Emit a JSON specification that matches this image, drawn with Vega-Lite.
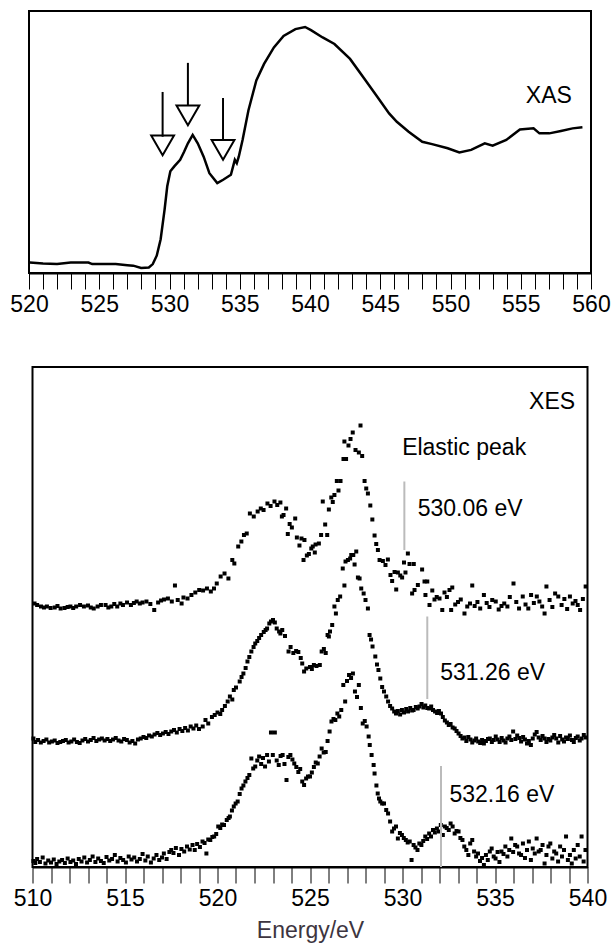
{
 "$schema": "https://vega.github.io/schema/vega-lite/v6.json",
 "padding": {"left": 8, "top": 10, "right": 0, "bottom": 0},
 "background": "white",
 "config": {"view": {"stroke": "black", "strokeWidth": 2}, "font": "Liberation Sans"},
 "spacing": 94,
 "bounds": "flush",
 "center": true,
 "datasets": {
  "xas": [
   {"e":520.06,"i":0.040},{"e":521.0,"i":0.036},{"e":522.0,"i":0.034},{"e":522.97,"i":0.040},{"e":524.23,"i":0.040},{"e":524.5,"i":0.034},{"e":526.17,"i":0.034},{"e":527.0,"i":0.030},{"e":527.42,"i":0.028},{"e":527.98,"i":0.019},{"e":528.53,"i":0.021},{"e":528.81,"i":0.034},{"e":529.09,"i":0.066},{"e":529.37,"i":0.129},{"e":529.65,"i":0.242},{"e":529.84,"i":0.331},{"e":530.06,"i":0.388},{"e":530.34,"i":0.407},{"e":530.76,"i":0.432},{"e":531.04,"i":0.463},{"e":531.31,"i":0.495},{"e":531.65,"i":0.527},{"e":532.01,"i":0.495},{"e":532.43,"i":0.444},{"e":532.84,"i":0.381},{"e":533.4,"i":0.343},{"e":533.82,"i":0.356},{"e":534.37,"i":0.375},{"e":534.65,"i":0.432},{"e":534.79,"i":0.419},{"e":534.93,"i":0.444},{"e":535.2,"i":0.508},{"e":535.62,"i":0.621},{"e":536.18,"i":0.735},{"e":536.73,"i":0.798},{"e":537.43,"i":0.861},{"e":538.12,"i":0.905},{"e":538.96,"i":0.931},{"e":539.65,"i":0.939},{"e":540.07,"i":0.927},{"e":540.9,"i":0.899},{"e":541.74,"i":0.874},{"e":542.85,"i":0.817},{"e":543.96,"i":0.735},{"e":544.8,"i":0.672},{"e":545.63,"i":0.609},{"e":546.18,"i":0.577},{"e":547.02,"i":0.539},{"e":547.99,"i":0.501},{"e":548.69,"i":0.492},{"e":549.8,"i":0.476},{"e":550.63,"i":0.460},{"e":551.47,"i":0.470},{"e":552.44,"i":0.495},{"e":553.0,"i":0.486},{"e":553.97,"i":0.508},{"e":554.94,"i":0.548},{"e":555.91,"i":0.552},{"e":556.33,"i":0.533},{"e":557.03,"i":0.533},{"e":557.86,"i":0.542},{"e":558.69,"i":0.552},{"e":559.39,"i":0.556}
  ],
  "arrows": [
   {"e":529.51,"top":0.691,"tri":0.52,"c":0.4875},
   {"e":531.31,"top":0.802,"tri":0.640,"c":0.602},
   {"e":533.81,"top":0.668,"tri":0.508,"c":0.470}
  ],
  "toplabels": [{"e":555.36,"i":0.650,"t":"XAS"}],
  "markers": [
   {"e":530.1,"y1":0.771,"y2":0.634},
   {"e":531.34,"y1":0.501,"y2":0.336},
   {"e":532.08,"y1":0.202,"y2":0.0}
  ],
  "labels": [
   {"e":536.84,"i":0.917,"t":"XES"},
   {"e":529.98,"i":0.824,"t":"Elastic peak"},
   {"e":530.82,"i":0.702,"t":"530.06 eV"},
   {"e":532.04,"i":0.375,"t":"531.26 eV"},
   {"e":532.54,"i":0.131,"t":"532.16 eV"}
  ],
  "xes": [
   {"e":510.11,"i":0.527},{"e":510.25,"i":0.524},{"e":510.46,"i":0.521},{"e":510.62,"i":0.519},{"e":510.78,"i":0.521},{"e":510.98,"i":0.518},{"e":511.2,"i":0.519},{"e":511.35,"i":0.522},{"e":511.52,"i":0.517},{"e":511.73,"i":0.518},{"e":511.9,"i":0.520},{"e":512.05,"i":0.521},{"e":512.2,"i":0.518},{"e":512.36,"i":0.521},{"e":512.57,"i":0.524},{"e":512.78,"i":0.521},{"e":513.0,"i":0.523},{"e":513.15,"i":0.519},{"e":513.31,"i":0.517},{"e":513.52,"i":0.521},{"e":513.7,"i":0.524},{"e":513.95,"i":0.524},{"e":514.1,"i":0.519},{"e":514.26,"i":0.521},{"e":514.42,"i":0.526},{"e":514.58,"i":0.521},{"e":514.75,"i":0.527},{"e":514.89,"i":0.524},{"e":515.11,"i":0.529},{"e":515.32,"i":0.524},{"e":515.48,"i":0.528},{"e":515.63,"i":0.531},{"e":515.8,"i":0.527},{"e":515.95,"i":0.529},{"e":516.16,"i":0.531},{"e":516.37,"i":0.526},{"e":516.58,"i":0.514},{"e":516.79,"i":0.529},{"e":516.95,"i":0.533},{"e":517.11,"i":0.535},{"e":517.32,"i":0.537},{"e":517.53,"i":0.531},{"e":517.7,"i":0.563},{"e":517.85,"i":0.534},{"e":518.06,"i":0.527},{"e":518.16,"i":0.539},{"e":518.38,"i":0.537},{"e":518.59,"i":0.544},{"e":518.8,"i":0.549},{"e":519.01,"i":0.554},{"e":519.22,"i":0.553},{"e":519.43,"i":0.557},{"e":519.64,"i":0.551},{"e":519.81,"i":0.557},{"e":519.96,"i":0.567},{"e":520.17,"i":0.581},{"e":520.38,"i":0.587},{"e":520.59,"i":0.577},{"e":520.8,"i":0.614},{"e":520.91,"i":0.607},{"e":521.12,"i":0.641},{"e":521.29,"i":0.651},{"e":521.43,"i":0.664},{"e":521.58,"i":0.667},{"e":521.75,"i":0.707},{"e":521.96,"i":0.701},{"e":522.17,"i":0.711},{"e":522.34,"i":0.717},{"e":522.49,"i":0.714},{"e":522.7,"i":0.727},{"e":522.87,"i":0.722},{"e":523.08,"i":0.731},{"e":523.23,"i":0.724},{"e":523.4,"i":0.729},{"e":523.48,"i":0.701},{"e":523.57,"i":0.704},{"e":523.71,"i":0.717},{"e":523.8,"i":0.666},{"e":523.9,"i":0.686},{"e":524.02,"i":0.679},{"e":524.2,"i":0.697},{"e":524.29,"i":0.659},{"e":524.43,"i":0.643},{"e":524.54,"i":0.657},{"e":524.65,"i":0.614},{"e":524.7,"i":0.654},{"e":524.83,"i":0.623},{"e":524.94,"i":0.626},{"e":525.07,"i":0.637},{"e":525.15,"i":0.641},{"e":525.26,"i":0.629},{"e":525.3,"i":0.645},{"e":525.48,"i":0.647},{"e":525.6,"i":0.664},{"e":525.69,"i":0.731},{"e":525.82,"i":0.685},{"e":525.93,"i":0.664},{"e":526.02,"i":0.715},{"e":526.15,"i":0.739},{"e":526.23,"i":0.730},{"e":526.32,"i":0.744},{"e":526.45,"i":0.772},{"e":526.54,"i":0.753},{"e":526.65,"i":0.772},{"e":526.81,"i":0.816},{"e":526.86,"i":0.851},{"e":526.95,"i":0.816},{"e":527.08,"i":0.843},{"e":527.19,"i":0.856},{"e":527.31,"i":0.869},{"e":527.46,"i":0.834},{"e":527.64,"i":0.829},{"e":527.73,"i":0.883},{"e":527.82,"i":0.822},{"e":527.95,"i":0.772},{"e":528.04,"i":0.757},{"e":528.13,"i":0.747},{"e":528.26,"i":0.723},{"e":528.37,"i":0.695},{"e":528.49,"i":0.663},{"e":528.58,"i":0.646},{"e":528.67,"i":0.634},{"e":528.76,"i":0.614},{"e":528.94,"i":0.612},{"e":529.08,"i":0.604},{"e":529.21,"i":0.615},{"e":529.35,"i":0.584},{"e":529.44,"i":0.572},{"e":529.57,"i":0.590},{"e":529.66,"i":0.555},{"e":529.75,"i":0.589},{"e":529.88,"i":0.583},{"e":529.98,"i":0.579},{"e":530.08,"i":0.609},{"e":530.16,"i":0.589},{"e":530.29,"i":0.627},{"e":530.38,"i":0.606},{"e":530.52,"i":0.547},{"e":530.61,"i":0.606},{"e":530.65,"i":0.554},{"e":530.83,"i":0.564},{"e":531.06,"i":0.595},{"e":531.19,"i":0.571},{"e":531.24,"i":0.544},{"e":531.34,"i":0.571},{"e":531.46,"i":0.524},{"e":531.61,"i":0.553},{"e":531.73,"i":0.535},{"e":531.85,"i":0.540},{"e":532.0,"i":0.537},{"e":532.15,"i":0.514},{"e":532.27,"i":0.549},{"e":532.4,"i":0.540},{"e":532.54,"i":0.554},{"e":532.63,"i":0.514},{"e":532.69,"i":0.559},{"e":532.85,"i":0.525},{"e":533.0,"i":0.530},{"e":533.15,"i":0.535},{"e":533.35,"i":0.507},{"e":533.5,"i":0.521},{"e":533.65,"i":0.527},{"e":533.77,"i":0.563},{"e":533.9,"i":0.522},{"e":534.05,"i":0.530},{"e":534.2,"i":0.517},{"e":534.4,"i":0.544},{"e":534.55,"i":0.528},{"e":534.7,"i":0.520},{"e":534.85,"i":0.534},{"e":535.04,"i":0.531},{"e":535.2,"i":0.515},{"e":535.35,"i":0.522},{"e":535.5,"i":0.527},{"e":535.67,"i":0.521},{"e":535.8,"i":0.540},{"e":536.0,"i":0.567},{"e":536.15,"i":0.530},{"e":536.3,"i":0.517},{"e":536.5,"i":0.541},{"e":536.65,"i":0.525},{"e":536.8,"i":0.517},{"e":536.95,"i":0.544},{"e":537.1,"i":0.528},{"e":537.26,"i":0.541},{"e":537.4,"i":0.531},{"e":537.55,"i":0.521},{"e":537.68,"i":0.507},{"e":537.78,"i":0.561},{"e":537.95,"i":0.534},{"e":538.1,"i":0.520},{"e":538.25,"i":0.547},{"e":538.42,"i":0.541},{"e":538.6,"i":0.524},{"e":538.75,"i":0.536},{"e":538.9,"i":0.516},{"e":539.05,"i":0.541},{"e":539.2,"i":0.527},{"e":539.35,"i":0.532},{"e":539.47,"i":0.524},{"e":539.6,"i":0.514},{"e":539.75,"i":0.536},{"e":539.9,"i":0.561},

   {"e":510.05,"i":0.257},{"e":510.15,"i":0.250},{"e":510.3,"i":0.254},{"e":510.45,"i":0.249},{"e":510.6,"i":0.252},{"e":510.75,"i":0.255},{"e":510.9,"i":0.249},{"e":511.05,"i":0.251},{"e":511.2,"i":0.253},{"e":511.35,"i":0.248},{"e":511.5,"i":0.250},{"e":511.65,"i":0.252},{"e":511.8,"i":0.254},{"e":511.95,"i":0.249},{"e":512.1,"i":0.251},{"e":512.25,"i":0.255},{"e":512.4,"i":0.250},{"e":512.55,"i":0.248},{"e":512.7,"i":0.253},{"e":512.85,"i":0.256},{"e":513.0,"i":0.251},{"e":513.15,"i":0.254},{"e":513.3,"i":0.258},{"e":513.45,"i":0.252},{"e":513.6,"i":0.255},{"e":513.75,"i":0.257},{"e":513.9,"i":0.253},{"e":514.05,"i":0.256},{"e":514.2,"i":0.252},{"e":514.35,"i":0.255},{"e":514.5,"i":0.258},{"e":514.65,"i":0.253},{"e":514.8,"i":0.251},{"e":514.95,"i":0.256},{"e":515.1,"i":0.254},{"e":515.25,"i":0.249},{"e":515.4,"i":0.252},{"e":515.55,"i":0.247},{"e":515.7,"i":0.255},{"e":515.85,"i":0.257},{"e":516.0,"i":0.260},{"e":516.15,"i":0.258},{"e":516.3,"i":0.263},{"e":516.45,"i":0.261},{"e":516.6,"i":0.265},{"e":516.75,"i":0.268},{"e":516.9,"i":0.264},{"e":517.05,"i":0.267},{"e":517.2,"i":0.270},{"e":517.35,"i":0.266},{"e":517.5,"i":0.271},{"e":517.65,"i":0.274},{"e":517.8,"i":0.269},{"e":517.95,"i":0.276},{"e":518.1,"i":0.272},{"e":518.25,"i":0.278},{"e":518.4,"i":0.273},{"e":518.55,"i":0.281},{"e":518.7,"i":0.277},{"e":518.85,"i":0.283},{"e":519.0,"i":0.276},{"e":519.2,"i":0.281},{"e":519.35,"i":0.294},{"e":519.5,"i":0.287},{"e":519.7,"i":0.300},{"e":519.85,"i":0.304},{"e":520.0,"i":0.309},{"e":520.15,"i":0.306},{"e":520.25,"i":0.314},{"e":520.4,"i":0.322},{"e":520.55,"i":0.331},{"e":520.67,"i":0.341},{"e":520.8,"i":0.335},{"e":520.88,"i":0.354},{"e":521.0,"i":0.359},{"e":521.2,"i":0.371},{"e":521.3,"i":0.380},{"e":521.4,"i":0.387},{"e":521.52,"i":0.398},{"e":521.62,"i":0.411},{"e":521.72,"i":0.420},{"e":521.83,"i":0.431},{"e":521.95,"i":0.440},{"e":522.04,"i":0.447},{"e":522.15,"i":0.452},{"e":522.25,"i":0.458},{"e":522.36,"i":0.464},{"e":522.5,"i":0.470},{"e":522.6,"i":0.474},{"e":522.68,"i":0.477},{"e":522.8,"i":0.487},{"e":522.89,"i":0.491},{"e":523.0,"i":0.494},{"e":523.1,"i":0.489},{"e":523.2,"i":0.477},{"e":523.33,"i":0.471},{"e":523.4,"i":0.467},{"e":523.5,"i":0.474},{"e":523.65,"i":0.462},{"e":523.84,"i":0.431},{"e":523.95,"i":0.440},{"e":524.1,"i":0.428},{"e":524.25,"i":0.432},{"e":524.37,"i":0.430},{"e":524.5,"i":0.418},{"e":524.58,"i":0.407},{"e":524.68,"i":0.391},{"e":524.8,"i":0.397},{"e":525.0,"i":0.400},{"e":525.1,"i":0.396},{"e":525.21,"i":0.404},{"e":525.35,"i":0.402},{"e":525.53,"i":0.404},{"e":525.63,"i":0.431},{"e":525.75,"i":0.436},{"e":525.85,"i":0.428},{"e":525.95,"i":0.464},{"e":526.02,"i":0.461},{"e":526.08,"i":0.471},{"e":526.2,"i":0.484},{"e":526.32,"i":0.521},{"e":526.4,"i":0.507},{"e":526.5,"i":0.534},{"e":526.63,"i":0.541},{"e":526.77,"i":0.597},{"e":526.86,"i":0.563},{"e":526.92,"i":0.611},{"e":527.05,"i":0.614},{"e":527.17,"i":0.617},{"e":527.23,"i":0.624},{"e":527.34,"i":0.624},{"e":527.41,"i":0.605},{"e":527.5,"i":0.631},{"e":527.59,"i":0.579},{"e":527.68,"i":0.577},{"e":527.77,"i":0.557},{"e":527.9,"i":0.547},{"e":528.0,"i":0.534},{"e":528.13,"i":0.517},{"e":528.22,"i":0.464},{"e":528.3,"i":0.455},{"e":528.38,"i":0.441},{"e":528.53,"i":0.421},{"e":528.62,"i":0.405},{"e":528.7,"i":0.394},{"e":528.8,"i":0.377},{"e":528.9,"i":0.360},{"e":529.0,"i":0.351},{"e":529.12,"i":0.341},{"e":529.22,"i":0.331},{"e":529.33,"i":0.322},{"e":529.44,"i":0.317},{"e":529.55,"i":0.311},{"e":529.65,"i":0.307},{"e":529.75,"i":0.312},{"e":529.87,"i":0.305},{"e":529.97,"i":0.314},{"e":530.08,"i":0.309},{"e":530.2,"i":0.316},{"e":530.3,"i":0.311},{"e":530.42,"i":0.318},{"e":530.52,"i":0.313},{"e":530.6,"i":0.314},{"e":530.72,"i":0.320},{"e":530.82,"i":0.317},{"e":530.92,"i":0.321},{"e":531.03,"i":0.326},{"e":531.13,"i":0.319},{"e":531.23,"i":0.323},{"e":531.34,"i":0.318},{"e":531.44,"i":0.317},{"e":531.55,"i":0.321},{"e":531.65,"i":0.314},{"e":531.76,"i":0.311},{"e":531.87,"i":0.308},{"e":531.97,"i":0.312},{"e":532.08,"i":0.307},{"e":532.18,"i":0.300},{"e":532.29,"i":0.293},{"e":532.4,"i":0.289},{"e":532.5,"i":0.284},{"e":532.6,"i":0.286},{"e":532.71,"i":0.279},{"e":532.82,"i":0.277},{"e":532.92,"i":0.272},{"e":533.03,"i":0.267},{"e":533.14,"i":0.262},{"e":533.24,"i":0.257},{"e":533.35,"i":0.259},{"e":533.45,"i":0.252},{"e":533.56,"i":0.260},{"e":533.67,"i":0.255},{"e":533.77,"i":0.249},{"e":533.88,"i":0.253},{"e":533.98,"i":0.257},{"e":534.09,"i":0.251},{"e":534.2,"i":0.248},{"e":534.3,"i":0.254},{"e":534.4,"i":0.247},{"e":534.51,"i":0.252},{"e":534.62,"i":0.256},{"e":534.72,"i":0.257},{"e":534.83,"i":0.250},{"e":534.93,"i":0.254},{"e":535.04,"i":0.261},{"e":535.14,"i":0.255},{"e":535.25,"i":0.250},{"e":535.36,"i":0.258},{"e":535.46,"i":0.253},{"e":535.57,"i":0.249},{"e":535.67,"i":0.257},{"e":535.78,"i":0.261},{"e":535.88,"i":0.254},{"e":535.98,"i":0.271},{"e":536.1,"i":0.256},{"e":536.2,"i":0.263},{"e":536.31,"i":0.258},{"e":536.41,"i":0.251},{"e":536.52,"i":0.260},{"e":536.62,"i":0.255},{"e":536.73,"i":0.247},{"e":536.83,"i":0.252},{"e":536.94,"i":0.244},{"e":537.04,"i":0.257},{"e":537.15,"i":0.265},{"e":537.25,"i":0.270},{"e":537.36,"i":0.259},{"e":537.47,"i":0.254},{"e":537.57,"i":0.262},{"e":537.68,"i":0.257},{"e":537.78,"i":0.250},{"e":537.89,"i":0.256},{"e":537.99,"i":0.253},{"e":538.1,"i":0.259},{"e":538.2,"i":0.264},{"e":538.31,"i":0.257},{"e":538.42,"i":0.249},{"e":538.52,"i":0.262},{"e":538.63,"i":0.255},{"e":538.73,"i":0.251},{"e":538.84,"i":0.259},{"e":538.94,"i":0.256},{"e":539.05,"i":0.263},{"e":539.16,"i":0.254},{"e":539.26,"i":0.250},{"e":539.37,"i":0.258},{"e":539.47,"i":0.261},{"e":539.58,"i":0.253},{"e":539.68,"i":0.257},{"e":539.8,"i":0.264},{"e":539.9,"i":0.259},

   {"e":510.05,"i":0.012},{"e":510.15,"i":0.008},{"e":510.25,"i":0.016},{"e":510.4,"i":0.010},{"e":510.55,"i":0.019},{"e":510.7,"i":0.007},{"e":510.85,"i":0.013},{"e":511.0,"i":0.009},{"e":511.15,"i":0.015},{"e":511.3,"i":0.006},{"e":511.45,"i":0.011},{"e":511.6,"i":0.014},{"e":511.75,"i":0.008},{"e":511.9,"i":0.017},{"e":512.05,"i":0.010},{"e":512.2,"i":0.013},{"e":512.35,"i":0.006},{"e":512.5,"i":0.016},{"e":512.65,"i":0.011},{"e":512.8,"i":0.019},{"e":512.95,"i":0.009},{"e":513.1,"i":0.014},{"e":513.25,"i":0.021},{"e":513.4,"i":0.010},{"e":513.55,"i":0.017},{"e":513.7,"i":0.012},{"e":513.85,"i":0.008},{"e":514.0,"i":0.020},{"e":514.15,"i":0.013},{"e":514.3,"i":0.016},{"e":514.45,"i":0.024},{"e":514.6,"i":0.011},{"e":514.75,"i":0.018},{"e":514.9,"i":0.014},{"e":515.05,"i":0.009},{"e":515.2,"i":0.021},{"e":515.35,"i":0.015},{"e":515.5,"i":0.019},{"e":515.65,"i":0.011},{"e":515.8,"i":0.016},{"e":515.95,"i":0.026},{"e":516.1,"i":0.013},{"e":516.23,"i":0.021},{"e":516.4,"i":0.009},{"e":516.55,"i":0.017},{"e":516.7,"i":0.024},{"e":516.85,"i":0.014},{"e":517.0,"i":0.019},{"e":517.1,"i":0.027},{"e":517.25,"i":0.016},{"e":517.4,"i":0.030},{"e":517.5,"i":0.034},{"e":517.62,"i":0.028},{"e":517.75,"i":0.038},{"e":517.92,"i":0.024},{"e":518.05,"i":0.036},{"e":518.2,"i":0.031},{"e":518.35,"i":0.041},{"e":518.5,"i":0.035},{"e":518.65,"i":0.044},{"e":518.77,"i":0.034},{"e":518.9,"i":0.046},{"e":519.05,"i":0.040},{"e":519.19,"i":0.051},{"e":519.3,"i":0.048},{"e":519.4,"i":0.027},{"e":519.5,"i":0.055},{"e":519.61,"i":0.054},{"e":519.72,"i":0.060},{"e":519.82,"i":0.061},{"e":519.93,"i":0.066},{"e":520.04,"i":0.081},{"e":520.15,"i":0.078},{"e":520.25,"i":0.085},{"e":520.35,"i":0.084},{"e":520.5,"i":0.094},{"e":520.6,"i":0.098},{"e":520.67,"i":0.101},{"e":520.78,"i":0.113},{"e":520.88,"i":0.121},{"e":520.98,"i":0.127},{"e":521.09,"i":0.131},{"e":521.2,"i":0.146},{"e":521.3,"i":0.157},{"e":521.4,"i":0.163},{"e":521.51,"i":0.171},{"e":521.62,"i":0.178},{"e":521.72,"i":0.184},{"e":521.83,"i":0.217},{"e":521.93,"i":0.197},{"e":522.04,"i":0.201},{"e":522.15,"i":0.213},{"e":522.25,"i":0.221},{"e":522.36,"i":0.206},{"e":522.46,"i":0.218},{"e":522.57,"i":0.201},{"e":522.68,"i":0.224},{"e":522.78,"i":0.211},{"e":522.89,"i":0.269},{"e":522.99,"i":0.224},{"e":523.1,"i":0.269},{"e":523.2,"i":0.213},{"e":523.31,"i":0.204},{"e":523.41,"i":0.222},{"e":523.52,"i":0.224},{"e":523.62,"i":0.206},{"e":523.73,"i":0.174},{"e":523.83,"i":0.220},{"e":523.94,"i":0.224},{"e":524.05,"i":0.215},{"e":524.15,"i":0.207},{"e":524.26,"i":0.200},{"e":524.37,"i":0.190},{"e":524.47,"i":0.196},{"e":524.58,"i":0.171},{"e":524.68,"i":0.164},{"e":524.79,"i":0.177},{"e":524.89,"i":0.181},{"e":525.0,"i":0.181},{"e":525.1,"i":0.189},{"e":525.21,"i":0.200},{"e":525.31,"i":0.209},{"e":525.42,"i":0.207},{"e":525.52,"i":0.221},{"e":525.63,"i":0.237},{"e":525.74,"i":0.229},{"e":525.85,"i":0.230},{"e":525.95,"i":0.252},{"e":526.06,"i":0.271},{"e":526.16,"i":0.291},{"e":526.27,"i":0.296},{"e":526.37,"i":0.294},{"e":526.48,"i":0.307},{"e":526.58,"i":0.301},{"e":526.69,"i":0.314},{"e":526.8,"i":0.364},{"e":526.9,"i":0.331},{"e":527.0,"i":0.372},{"e":527.11,"i":0.384},{"e":527.22,"i":0.378},{"e":527.32,"i":0.387},{"e":527.43,"i":0.351},{"e":527.54,"i":0.340},{"e":527.64,"i":0.364},{"e":527.75,"i":0.318},{"e":527.85,"i":0.287},{"e":527.96,"i":0.292},{"e":528.06,"i":0.281},{"e":528.17,"i":0.261},{"e":528.23,"i":0.244},{"e":528.33,"i":0.224},{"e":528.44,"i":0.204},{"e":528.49,"i":0.187},{"e":528.59,"i":0.163},{"e":528.66,"i":0.147},{"e":528.73,"i":0.137},{"e":528.8,"i":0.131},{"e":528.9,"i":0.127},{"e":529.0,"i":0.127},{"e":529.12,"i":0.114},{"e":529.22,"i":0.107},{"e":529.33,"i":0.091},{"e":529.44,"i":0.071},{"e":529.54,"i":0.077},{"e":529.65,"i":0.081},{"e":529.75,"i":0.057},{"e":529.86,"i":0.068},{"e":529.97,"i":0.064},{"e":530.07,"i":0.058},{"e":530.18,"i":0.054},{"e":530.28,"i":0.049},{"e":530.39,"i":0.051},{"e":530.49,"i":0.014},{"e":530.6,"i":0.044},{"e":530.7,"i":0.039},{"e":530.81,"i":0.034},{"e":530.91,"i":0.047},{"e":531.02,"i":0.044},{"e":531.12,"i":0.052},{"e":531.23,"i":0.061},{"e":531.33,"i":0.056},{"e":531.44,"i":0.067},{"e":531.54,"i":0.061},{"e":531.65,"i":0.074},{"e":531.75,"i":0.069},{"e":531.86,"i":0.077},{"e":531.97,"i":0.071},{"e":532.07,"i":0.084},{"e":532.18,"i":0.064},{"e":532.29,"i":0.081},{"e":532.39,"i":0.078},{"e":532.5,"i":0.074},{"e":532.6,"i":0.087},{"e":532.71,"i":0.081},{"e":532.82,"i":0.067},{"e":532.92,"i":0.072},{"e":533.03,"i":0.071},{"e":533.13,"i":0.058},{"e":533.24,"i":0.054},{"e":533.34,"i":0.041},{"e":533.45,"i":0.034},{"e":533.56,"i":0.024},{"e":533.66,"i":0.047},{"e":533.77,"i":0.054},{"e":533.87,"i":0.031},{"e":533.98,"i":0.021},{"e":534.08,"i":0.027},{"e":534.19,"i":0.012},{"e":534.3,"i":0.018},{"e":534.4,"i":0.004},{"e":534.51,"i":0.024},{"e":534.61,"i":0.014},{"e":534.72,"i":0.031},{"e":534.82,"i":0.037},{"e":534.93,"i":0.021},{"e":535.03,"i":0.017},{"e":535.14,"i":0.030},{"e":535.24,"i":0.010},{"e":535.35,"i":0.031},{"e":535.46,"i":0.026},{"e":535.56,"i":0.041},{"e":535.67,"i":0.021},{"e":535.77,"i":0.034},{"e":535.88,"i":0.057},{"e":535.98,"i":0.030},{"e":536.09,"i":0.044},{"e":536.2,"i":0.041},{"e":536.3,"i":0.027},{"e":536.41,"i":0.024},{"e":536.51,"i":0.047},{"e":536.62,"i":0.018},{"e":536.73,"i":0.034},{"e":536.83,"i":0.051},{"e":536.94,"i":0.014},{"e":537.04,"i":0.037},{"e":537.15,"i":0.027},{"e":537.25,"i":0.057},{"e":537.36,"i":0.031},{"e":537.47,"i":0.034},{"e":537.57,"i":0.044},{"e":537.68,"i":0.007},{"e":537.78,"i":0.024},{"e":537.89,"i":0.041},{"e":537.99,"i":0.047},{"e":538.1,"i":0.017},{"e":538.2,"i":0.031},{"e":538.31,"i":0.027},{"e":538.41,"i":0.011},{"e":538.52,"i":0.041},{"e":538.62,"i":0.021},{"e":538.73,"i":0.034},{"e":538.84,"i":0.061},{"e":538.94,"i":0.014},{"e":539.05,"i":0.024},{"e":539.15,"i":0.007},{"e":539.26,"i":0.034},{"e":539.36,"i":0.017},{"e":539.47,"i":0.044},{"e":539.58,"i":0.021},{"e":539.68,"i":0.061},{"e":539.79,"i":0.011},{"e":539.89,"i":0.034}
  ]
 },
 "vconcat": [
  {
   "width": 562, "height": 262,
   "encoding": {
    "x": {"field": "e", "type": "quantitative",
     "scale": {"domain": [520, 560], "nice": false, "zero": false},
     "axis": {"title": null, "grid": false,
      "values": [520,521,522,523,524,525,526,527,528,529,530,531,532,533,534,535,536,537,538,539,540,541,542,543,544,545,546,547,548,549,550,551,552,553,554,555,556,557,558,559,560],
      "labelExpr": "datum.value % 5 === 0 ? datum.label : ''",
      "labelOverlap": false, "labelFlush": false, "labelBound": false,
      "labelFontSize": 23, "labelColor": "black", "labelFont": "Liberation Sans", "labelPadding": 4,
      "tickSize": 16, "tickColor": "black", "domainColor": "black", "domainWidth": 2,
      "encode": {"ticks": {"update": {"y2": {"signal": "datum.value % 5 === 0 ? 16 : 8"}, "strokeWidth": {"signal": "datum.value % 5 === 0 ? 2 : 1.2"}}}}
     }
    }
   },
   "layer": [
    {"data": {"name": "xas"}, "mark": {"type": "line", "color": "black", "strokeWidth": 2.5},
     "encoding": {"y": {"field": "i", "type": "quantitative", "scale": {"domain": [0, 1], "nice": false}, "axis": null}}},
    {"data": {"name": "arrows"}, "mark": {"type": "rule", "color": "black", "strokeWidth": 2},
     "encoding": {"y": {"field": "top", "type": "quantitative", "axis": null}, "y2": {"field": "tri"}}},
    {"data": {"name": "arrows"}, "mark": {"type": "point", "shape": "triangle-down", "filled": false, "size": 520, "strokeWidth": 2, "color": "black", "opacity": 1},
     "encoding": {"y": {"field": "c", "type": "quantitative", "axis": null}}},
    {"data": {"name": "toplabels"}, "mark": {"type": "text", "align": "left", "baseline": "alphabetic", "fontSize": 23, "font": "Liberation Sans", "color": "black"},
     "encoding": {"y": {"field": "i", "type": "quantitative", "axis": null}, "text": {"field": "t"}}}
   ]
  },
  {
   "width": 555, "height": 500,
   "encoding": {
    "x": {"field": "e", "type": "quantitative",
     "scale": {"domain": [510, 540], "nice": false, "zero": false},
     "axis": {"title": "Energy/eV", "grid": false,
      "values": [510,511,512,513,514,515,516,517,518,519,520,521,522,523,524,525,526,527,528,529,530,531,532,533,534,535,536,537,538,539,540],
      "labelExpr": "datum.value % 5 === 0 ? datum.label : ''",
      "labelOverlap": false, "labelFlush": false, "labelBound": false,
      "labelFontSize": 23, "labelColor": "black", "labelFont": "Liberation Sans", "labelPadding": 4,
      "titleFontSize": 23, "titleFontWeight": "normal", "titleFont": "Liberation Sans", "titleColor": "#3d3540", "titlePadding": 9,
      "tickSize": 16, "tickColor": "black", "domainColor": "black", "domainWidth": 2,
      "encode": {"ticks": {"update": {"y2": {"signal": "datum.value % 5 === 0 ? 16 : 8"}, "strokeWidth": {"signal": "datum.value % 5 === 0 ? 2 : 1.2"}}}}
     }
    }
   },
   "layer": [
    {"data": {"name": "xes"}, "mark": {"type": "point", "shape": "square", "filled": true, "size": 16, "color": "black", "opacity": 1},
     "encoding": {"y": {"field": "i", "type": "quantitative", "scale": {"domain": [0, 1], "nice": false}, "axis": null}}},
    {"data": {"name": "markers"}, "mark": {"type": "rule", "color": "#bbbbbb", "strokeWidth": 2},
     "encoding": {"y": {"field": "y1", "type": "quantitative", "axis": null}, "y2": {"field": "y2"}}},
    {"data": {"name": "labels"}, "mark": {"type": "text", "align": "left", "baseline": "alphabetic", "fontSize": 23, "font": "Liberation Sans", "color": "black"},
     "encoding": {"y": {"field": "i", "type": "quantitative", "axis": null}, "text": {"field": "t"}}}
   ]
  }
 ]
}
